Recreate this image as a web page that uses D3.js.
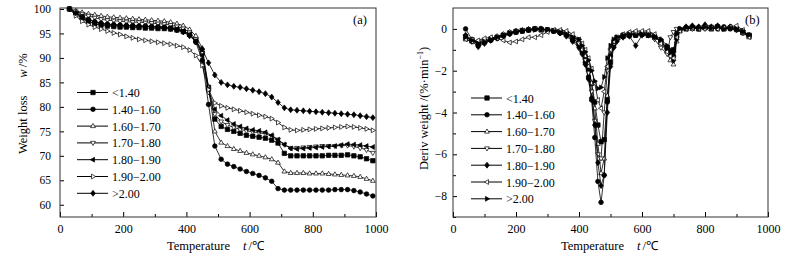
<!DOCTYPE html>
<html lang="en">
<head>
<meta charset="UTF-8" />
<title>TG / DTG curves</title>
<script src="https://d3js.org/d3.v7.min.js"></script>
<style>
    body { margin: 0; background: #fff; }
    svg text { font-family: "Liberation Serif", "Times New Roman", serif; fill: #000; }
    .axis path.domain { display: none; }
    .axis line { stroke: #000; stroke-width: 1; }
    .axis text { font-size: 12px; }
    .legend text { font-size: 12px; }
</style>
</head>
<body>
<script>
// ---- data ----
const seriesNames = ['<1.40', '1.40\u22121.60', '1.60\u22121.70', '1.70\u22121.80', '1.80\u22121.90', '1.90\u22122.00', '>2.00'];

// (a) weight loss w/% vs temperature
const tempA = d3.range(30, 1000, 20); // 30, 50, ... 990 (marker positions)
const wSq = [100,99.2,98.2,97.5,97.0,96.7,96.5,96.4,96.3,96.3,
    96.2,96.2,96.1,96.1,96.0,96.0,95.9,95.7,95.4,94.8,
    93.6,91.0,84.0,77.5,76.0,75.4,75.0,74.6,74.2,74.0,
    73.8,73.6,73.2,72.6,70.5,70.0,70.0,70.0,70.0,70.0,
    70.0,70.1,70.1,70.1,70.2,70.0,69.8,69.4,69.0];
const wCi = [100,99.3,98.5,97.9,97.4,97.1,96.9,96.8,96.7,96.6,
    96.6,96.5,96.5,96.4,96.4,96.3,96.2,96.0,95.6,94.8,
    93.2,89.5,80.5,72.0,69.3,68.3,67.8,67.3,66.8,66.4,
    66.0,65.5,64.8,63.3,63.0,63.0,63.0,63.0,63.0,63.0,
    63.0,63.0,63.1,63.1,63.1,62.9,62.6,62.2,61.8];
const wUp = [100,99.6,99.3,99.0,98.8,98.6,98.4,98.3,98.2,98.1,
    98.0,97.9,97.8,97.7,97.6,97.5,97.3,97.0,96.6,95.8,
    94.5,92.0,84.0,75.0,72.7,72.0,71.4,71.0,70.6,70.3,
    70.0,69.7,69.3,68.6,66.8,66.5,66.5,66.5,66.4,66.4,
    66.4,66.3,66.2,66.1,66.0,65.9,65.7,65.3,64.9];
const wDn = [100,99.5,99.0,98.6,98.2,97.9,97.7,97.6,97.5,97.4,
    97.3,97.3,97.2,97.1,97.0,96.9,96.7,96.4,96.0,95.2,
    93.8,91.0,83.0,78.5,77.0,76.3,75.8,75.4,75.1,74.9,
    74.7,74.5,74.0,73.3,72.3,71.6,71.6,71.7,71.8,71.9,
    72.0,72.0,72.0,72.1,72.1,71.9,71.6,71.2,70.6];
const wLf = [100,99.0,98.0,97.4,97.0,96.8,96.7,96.6,96.6,96.5,
    96.5,96.5,96.4,96.4,96.3,96.2,96.1,95.9,95.5,94.8,
    93.4,90.5,83.5,79.5,78.2,77.3,76.5,76.0,75.6,75.3,
    75.1,74.8,74.2,73.3,72.3,71.5,71.4,71.5,71.6,71.7,
    71.8,71.9,72.0,72.2,72.4,72.3,72.2,72.0,71.8];
const wRt = [100,98.6,97.5,96.8,96.3,95.9,95.5,95.1,94.8,94.4,
    94.1,93.8,93.6,93.4,93.2,93.0,92.8,92.5,92.2,91.6,
    90.5,88.5,83.5,80.8,80.2,79.8,79.5,79.2,78.9,78.6,
    78.3,78.0,77.6,76.8,75.8,75.3,75.2,75.3,75.4,75.5,
    75.6,75.7,75.8,75.9,76.0,75.9,75.7,75.5,75.2];
const wDi = [100,99.2,98.4,97.8,97.4,97.1,96.9,96.8,96.7,96.6,
    96.6,96.5,96.5,96.4,96.3,96.2,96.0,95.7,95.3,94.5,
    93.3,91.8,89.0,86.5,85.0,84.5,84.2,84.0,83.7,83.4,
    83.1,82.7,82.0,80.9,79.8,79.4,79.3,79.2,79.1,79.0,
    78.9,78.8,78.7,78.6,78.5,78.4,78.2,78.0,77.8];
const valuesA = [wSq, wCi, wUp, wDn, wLf, wRt, wDi];

// (b) derivative weight %/min vs temperature
const tempB = [40,60,80,100,120,140,160,180,200,220,
    240,260,280,300,320,340,360,380,400,
    410,420,430,440,450,460,470,480,490,500,510,520,
    540,560,580,600,620,640,660,680,
    690,700,710,720,
    740,760,780,800,820,840,860,880,900,920,940];
const dSq = [-0.4,-0.55,-0.7,-0.6,-0.5,-0.4,-0.3,-0.2,-0.15,-0.1,
    -0.05,0.0,-0.05,-0.05,-0.1,-0.15,-0.25,-0.45,-0.7,
    -1.0,-1.4,-1.9,-2.6,-3.5,-4.6,-5.4,-5.3,-3.4,-1.6,-0.8,-0.5,
    -0.35,-0.3,-0.3,-0.25,-0.3,-0.4,-0.6,-0.9,
    -1.1,-1.0,-0.3,-0.05,
    0.0,0.05,0.0,0.05,0.0,0.1,0.0,0.05,0.0,-0.15,-0.3];
const dCi = [0.0,-0.5,-0.8,-0.65,-0.55,-0.45,-0.3,-0.2,-0.1,-0.1,
    -0.05,0.0,0.0,-0.05,-0.1,-0.2,-0.3,-0.55,-0.8,
    -1.1,-1.6,-2.3,-3.4,-5.2,-7.3,-8.3,-7.0,-3.5,-1.3,-0.7,-0.5,
    -0.3,-0.25,-0.3,-0.2,-0.25,-0.35,-0.6,-1.0,
    -1.2,-1.3,-0.4,-0.05,
    0.05,0.1,0.0,0.1,0.05,0.0,0.1,0.0,-0.05,-0.2,-0.35];
const dUp = [-0.5,-0.6,-0.6,-0.55,-0.45,-0.35,-0.25,-0.15,-0.1,-0.05,
    0.0,0.0,-0.05,-0.05,-0.1,-0.15,-0.2,-0.35,-0.6,
    -0.9,-1.3,-1.8,-2.6,-3.8,-5.5,-6.9,-6.2,-3.2,-1.4,-0.7,-0.4,
    -0.3,-0.2,-0.2,-0.2,-0.15,-0.3,-0.5,-1.1,
    -1.5,-1.7,-0.6,-0.1,
    0.05,0.0,0.1,0.05,0.0,0.05,0.0,0.1,0.0,-0.2,-0.4];
const dDn = [-0.35,-0.5,-0.65,-0.6,-0.5,-0.4,-0.3,-0.2,-0.1,-0.05,
    -0.05,0.0,0.0,-0.05,-0.05,-0.1,-0.2,-0.4,-0.7,
    -1.0,-1.5,-2.1,-3.0,-4.4,-6.0,-6.2,-4.0,-2.0,-1.0,-0.6,-0.4,
    -0.3,-0.25,-0.2,-0.25,-0.3,-0.5,-0.9,-1.2,
    -0.4,-0.15,0.0,0.0,
    0.05,0.0,0.05,0.0,0.1,0.05,0.0,0.05,-0.05,-0.15,-0.3];
const dDi = [-0.3,-0.6,-0.85,-0.7,-0.55,-0.45,-0.35,-0.25,-0.15,-0.1,
    -0.05,0.0,0.0,-0.05,-0.1,-0.2,-0.35,-0.6,-0.9,
    -1.2,-1.7,-2.4,-3.3,-4.6,-6.4,-7.5,-7.0,-4.0,-1.8,-0.9,-0.6,
    -0.4,-0.35,-0.8,-0.3,-0.3,-0.4,-0.6,-0.9,
    -1.2,-1.5,-0.5,0.0,
    0.1,0.15,0.1,0.2,0.1,0.15,0.05,0.1,0.0,-0.1,-0.3];
const dLf = [-0.5,-0.6,-0.55,-0.45,-0.4,-0.45,-0.55,-0.65,-0.6,-0.5,
    -0.4,-0.4,-0.3,-0.15,-0.05,-0.05,-0.1,-0.25,-0.5,
    -0.7,-1.0,-1.4,-1.9,-2.6,-3.4,-3.8,-3.0,-1.8,-1.0,-0.6,-0.4,
    -0.25,-0.15,-0.1,-0.1,-0.1,-0.25,-0.7,-1.1,
    -1.3,-1.4,-0.4,-0.1,
    0.0,0.05,0.0,0.1,0.05,0.0,0.05,0.1,0.15,-0.05,-0.4];
const dRt = [-0.4,-0.55,-0.7,-0.65,-0.5,-0.4,-0.3,-0.2,-0.15,-0.1,
    -0.05,-0.05,0.0,-0.05,-0.1,-0.15,-0.25,-0.4,-0.5,
    -0.8,-1.1,-1.5,-2.0,-2.5,-2.85,-2.8,-2.3,-1.4,-0.8,-0.5,-0.4,
    -0.3,-0.25,-0.3,-0.25,-0.3,-0.35,-0.5,-0.8,
    -1.0,-1.1,-0.2,0.0,
    0.05,0.1,0.05,0.1,0.05,0.1,0.0,0.05,0.0,-0.1,-0.3];
const valuesB = [dSq, dCi, dUp, dDn, dDi, dLf, dRt];

// marker styles per series
const markersA = [['square', true], ['circle', true], ['up', false], ['down', false], ['left', true], ['right', false], ['diamond', true]];
const markersB = [['square', true], ['circle', true], ['up', false], ['down', false], ['diamond', true], ['left', false], ['right', true]];

// ---- drawing ----
const W = 793, H = 257;
const svg = d3.select("body").append("svg").attr("width", W).attr("height", H);

function shapePath(type, r) {
    switch (type) {
        case 'square': return `M${-r},${-r}H${r}V${r}H${-r}Z`;
        case 'circle': return d3.symbol(d3.symbolCircle, Math.PI * r * r * 1.1)();
        case 'up': return `M0,${-r * 1.2}L${r * 1.1},${r * 0.7}L${-r * 1.1},${r * 0.7}Z`;
        case 'down': return `M0,${r * 1.2}L${r * 1.1},${-r * 0.7}L${-r * 1.1},${-r * 0.7}Z`;
        case 'left': return `M${-r * 1.2},0L${r * 0.7},${-r * 1.1}L${r * 0.7},${r * 1.1}Z`;
        case 'right': return `M${r * 1.2},0L${-r * 0.7},${-r * 1.1}L${-r * 0.7},${r * 1.1}Z`;
        case 'diamond': return `M0,${-r * 1.35}L${r * 1.05},0L0,${r * 1.35}L${-r * 1.05},0Z`;
    }
}

const plotTop = 8, plotBottom = 217;

function drawPanel(p) {
    const g = svg.append("g");
    const x = d3.scaleLinear().domain([0, 1000]).range([p.left, p.right]);
    const y = d3.scaleLinear().domain(p.yDomain).range([plotBottom, plotTop]);

    // x ticks (inward)
    g.append("g").attr("class", "axis").attr("transform", `translate(0,${plotBottom})`)
        .call(d3.axisBottom(x).tickValues(d3.range(100, 1000, 200)).tickSize(-3).tickFormat(""));
    g.append("g").attr("class", "axis").attr("transform", `translate(0,${plotBottom})`)
        .call(d3.axisBottom(x).tickValues(d3.range(0, 1001, 200)).tickSize(-5).tickPadding(7).tickFormat(d3.format("d")));

    // y ticks
    if (p.yMinor) {
        g.append("g").attr("class", "axis").attr("transform", `translate(${p.left},0)`)
            .call(d3.axisLeft(y).tickValues(p.yMinor).tickSize(-3).tickFormat(""));
    }
    g.append("g").attr("class", "axis yaxis").attr("transform", `translate(${p.left},0)`)
        .call(d3.axisLeft(y).tickValues(p.yTicks).tickSize(-4).tickPadding(p.yPad));
    g.selectAll(".yaxis text").style("font-size", "11.5px");

    // frame
    g.append("rect").attr("x", p.left).attr("y", plotTop)
        .attr("width", p.right - p.left).attr("height", plotBottom - plotTop)
        .attr("fill", "none").attr("stroke", "#333").attr("stroke-width", 1);

    // series
    const line = d3.line().x(d => x(d[0])).y(d => y(d[1]));
    p.values.forEach((vals, i) => {
        const pts = p.temps.map((t, j) => [t, vals[j]]).filter(d => d[1] !== undefined);
        g.append("path").datum(pts)
            .attr("fill", "none").attr("stroke", "#000").attr("stroke-width", 0.8)
            .attr("d", line);
        const [shape, filled] = p.markers[i];
        g.selectAll(null).data(pts).enter().append("path")
            .attr("transform", d => `translate(${x(d[0])},${y(d[1])})`)
            .attr("d", shapePath(shape, 2.2))
            .attr("fill", filled ? "#000" : "#fff")
            .attr("stroke", "#000").attr("stroke-width", 0.7);
    });

    // legend
    const lg = g.append("g").attr("class", "legend");
    seriesNames.forEach((name, i) => {
        const ly = p.legY + i * 16.8;
        const row = lg.append("g").attr("transform", `translate(${p.legX},${ly})`);
        row.append("line").attr("x1", 0).attr("x2", 31).attr("y1", 0).attr("y2", 0)
            .attr("stroke", "#000").attr("stroke-width", 1);
        row.append("path").attr("transform", "translate(16,0)")
            .attr("d", shapePath(p.markers[i][0], 2.2))
            .attr("fill", p.markers[i][1] ? "#000" : "#fff")
            .attr("stroke", "#000").attr("stroke-width", 0.7);
        row.append("text").attr("x", 35).attr("y", 4.5).text(name);
    });

    // panel tag
    g.append("text").attr("x", p.right - 23).attr("y", 24).style("font-size", "12.5px").text(p.tag);

    // x title
    const xt = g.append("text").attr("x", p.xTitleX).attr("y", 250).style("font-size", "12.5px");
    xt.append("tspan").text("Temperature");
    xt.append("tspan").attr("dx", 13).style("font-style", "italic").text("t");
    xt.append("tspan").attr("dx", 2).text("/\u2103");

    return g;
}

drawPanel({
    left: 60, right: 376, yDomain: [57.5, 100.2],
    yTicks: d3.range(60, 101, 5), yMinor: null, yPad: 9,
    temps: tempA, values: valuesA, markers: markersA,
    legX: 77, legY: 92.5, tag: "(a)", xTitleX: 167
});

drawPanel({
    left: 453, right: 768, yDomain: [-9, 1],
    yTicks: d3.range(-8, 1, 2), yMinor: d3.range(-9, 1, 2), yPad: 6,
    temps: tempB, values: valuesB, markers: markersB,
    legX: 471, legY: 98, tag: "(b)", xTitleX: 561
});

// y titles
const ya = svg.append("text").attr("transform", "translate(27,154) rotate(-90)").style("font-size", "12.5px");
ya.append("tspan").text("Weight loss");
ya.append("tspan").attr("dx", 18).style("font-style", "italic").text("w");
ya.append("tspan").attr("dx", 2).text("/%");

const yb = svg.append("text").attr("transform", "translate(428,170) rotate(-90)").style("font-size", "12.5px");
yb.append("tspan").text("Deriv weight /(%\u00b7min");
yb.append("tspan").attr("dy", -5).style("font-size", "8px").text("\u22121");
yb.append("tspan").attr("dy", 5).text(")");
</script>
</body>
</html>
